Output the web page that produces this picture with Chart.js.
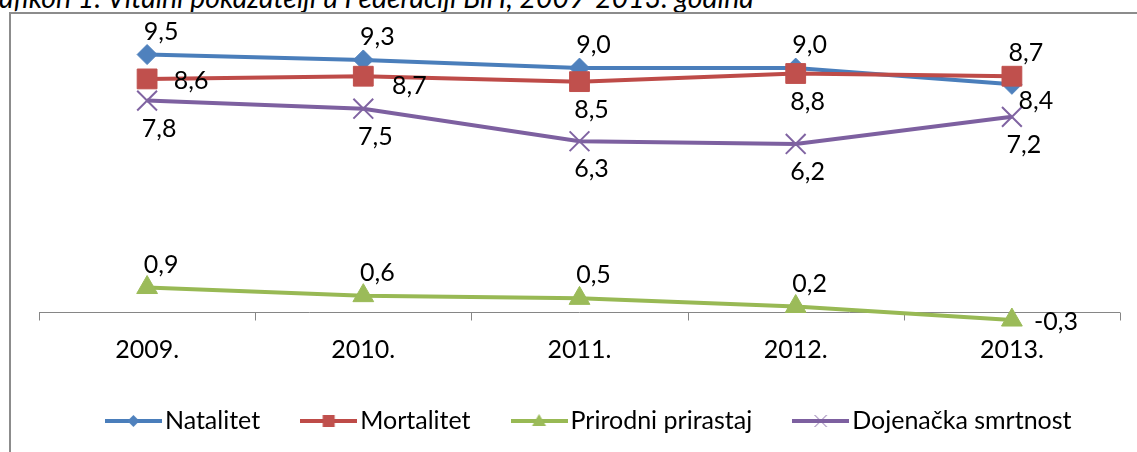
<!DOCTYPE html>
<html><head><meta charset="utf-8">
<script src="https://cdn.jsdelivr.net/npm/chart.js@4/dist/chart.umd.min.js"></script>
<style>
html,body{margin:0;padding:0;background:#fff;width:1137px;height:452px;overflow:hidden;position:relative;}
#frame{position:absolute;left:9px;top:12px;width:1200px;height:500px;border-left:2px solid #8c8c8c;border-top:2px solid #8c8c8c;}
#title{position:absolute;left:-29px;top:-16.8px;font:italic 28.4px Lato;line-height:28px;white-space:nowrap;color:#000;}
#wrap{position:absolute;left:0;top:0;width:1137px;height:452px;}
</style></head><body>
<div id="title">Grafikon 1: Vitalni pokazatelji u Federaciji BiH, 2009-2013. godina</div>
<div id="frame"></div>
<div id="wrap"><canvas id="c" width="1137" height="452"></canvas></div>
<script>
const years = ['2009.', '2010.', '2011.', '2012.', '2013.'];
const seriesNames = ['Natalitet', 'Mortalitet', 'Prirodni prirastaj', 'Dojenačka smrtnost'];
const natalitet = [9.5, 9.3, 9.0, 9.0, 8.4];
const mortalitet = [8.6, 8.7, 8.5, 8.8, 8.7];
const prirodniPrirastaj = [0.9, 0.6, 0.5, 0.2, -0.3];
const dojenackaSmrtnost = [7.8, 7.5, 6.3, 6.2, 7.2];

const FONT = 'Lato';
const FS = 25;
const labelOffsets = {above: [14, -23], below: [12, 28], right: [44, 2], rightBelow: [46, 10], belowRight: [24, 17]};

function legendImage(lineColor, markColor, kind) {
  const c = document.createElement('canvas');
  c.width = 57; c.height = 16;
  const g = c.getContext('2d');
  g.strokeStyle = lineColor; g.lineWidth = 4;
  g.beginPath(); g.moveTo(0, 8); g.lineTo(57, 8); g.stroke();
  g.fillStyle = markColor; g.strokeStyle = markColor;
  const cx = 28.5, cy = 8;
  g.beginPath();
  if (kind === 'diamond') {
    g.moveTo(cx, cy - 6); g.lineTo(cx + 6, cy); g.lineTo(cx, cy + 6); g.lineTo(cx - 6, cy); g.closePath(); g.fill();
  } else if (kind === 'square') {
    g.rect(cx - 6, cy - 6, 12, 12); g.fill();
  } else if (kind === 'triangle') {
    g.moveTo(cx, cy - 7); g.lineTo(cx + 7, cy + 5); g.lineTo(cx - 7, cy + 5); g.closePath(); g.fill();
  } else {
    g.lineWidth = 1;
    g.moveTo(cx - 6, cy - 6); g.lineTo(cx + 6, cy + 6); g.moveTo(cx + 6, cy - 6); g.lineTo(cx - 6, cy + 6); g.stroke();
  }
  return c;
}

const zeroAxis = {
  id: 'zeroAxis',
  beforeDatasetsDraw(chart) {
    const {ctx, chartArea: a, scales: {x, y}} = chart;
    const y0 = Math.round(y.getPixelForValue(0)) + 0.5;
    ctx.save();
    ctx.strokeStyle = '#868686'; ctx.lineWidth = 1;
    ctx.beginPath();
    ctx.moveTo(a.left, y0); ctx.lineTo(a.right, y0);
    for (let i = 0; i <= years.length; i++) {
      const px = Math.round(x.getPixelForValue(i - 0.5)) + 0.5;
      ctx.moveTo(px, y0); ctx.lineTo(px, y0 + 8);
    }
    ctx.stroke();
    ctx.restore();
  }
};

const valueLabels = {
  id: 'valueLabels',
  afterDatasetsDraw(chart) {
    const ctx = chart.ctx;
    ctx.save();
    ctx.font = FS + 'px ' + FONT;
    ctx.fillStyle = '#000';
    ctx.textAlign = 'center';
    ctx.textBaseline = 'middle';
    chart.data.datasets.forEach((ds, di) => {
      const meta = chart.getDatasetMeta(di);
      meta.data.forEach((pt, i) => {
        const off = labelOffsets[ds.labelPos[i]];
        const txt = ds.data[i].toFixed(1).replace('.', ',');
        ctx.fillText(txt, pt.x + off[0], pt.y + off[1]);
      });
    });
    ctx.restore();
  }
};

const styles = [
  {line: '#4A7EBB', mark: '#4F81BD', ps: 'rectRot', r: 10, bw: 1, kind: 'diamond', order: 4, pos: ['above', 'above', 'above', 'above', 'belowRight']},
  {line: '#BE4B48', mark: '#C0504D', ps: 'rect', r: 14, bw: 1, kind: 'square', order: 3, pos: ['right', 'rightBelow', 'below', 'below', 'above']},
  {line: '#98B954', mark: '#9BBB59', ps: 'triangle', r: 12, bw: 1, kind: 'triangle', order: 2, pos: ['above', 'above', 'above', 'above', 'right']},
  {line: '#7D60A0', mark: '#8064A2', ps: 'crossRot', r: 14, bw: 2, kind: 'cross', order: 1, pos: ['below', 'below', 'below', 'below', 'below']}
];
const seriesData = [natalitet, mortalitet, prirodniPrirastaj, dojenackaSmrtnost];

const datasets = seriesNames.map((name, i) => ({
  label: name,
  data: seriesData[i],
  borderColor: styles[i].line,
  backgroundColor: styles[i].mark,
  borderWidth: 4,
  tension: 0,
  pointStyle: styles[i].ps,
  pointRadius: styles[i].r,
  pointBackgroundColor: styles[i].mark,
  pointBorderColor: styles[i].mark,
  pointBorderWidth: styles[i].bw,
  order: styles[i].order,
  labelPos: styles[i].pos,
  legendImg: legendImage(styles[i].line, styles[i].mark, styles[i].kind)
}));

new Chart(document.getElementById('c'), {
  type: 'line',
  data: {labels: years, datasets},
  options: {
    responsive: false,
    animation: false,
    devicePixelRatio: 1,
    layout: {padding: {left: 39, right: -10, top: 41, bottom: 8.5}},
    scales: {
      x: {
        type: 'category', offset: true,
        grid: {display: false, drawTicks: false},
        border: {display: false},
        ticks: {color: '#000', font: {family: FONT, size: FS}, padding: -4.5, maxRotation: 0, autoSkip: false},
        afterFit(s) { s.height = 20; }
      },
      y: {
        position: 'right', min: -1, max: 10,
        ticks: {display: false},
        grid: {display: false, drawTicks: false},
        border: {display: false},
        afterFit(s) { s.width = 27; }
      }
    },
    plugins: {
      tooltip: {enabled: false},
      legend: {
        position: 'bottom',
        labels: {
          color: '#000',
          font: {family: FONT, size: FS},
          usePointStyle: true,
          pointStyleWidth: 38,
          padding: 49.5,
          sort: (a, b) => a.datasetIndex - b.datasetIndex,
          generateLabels(chart) {
            return Chart.defaults.plugins.legend.labels.generateLabels(chart).map(it => {
              it.pointStyle = chart.data.datasets[it.datasetIndex].legendImg;
              it.fontColor = '#000';
              return it;
            });
          }
        }
      }
    }
  },
  plugins: [zeroAxis, valueLabels]
});
</script>
</body></html>
